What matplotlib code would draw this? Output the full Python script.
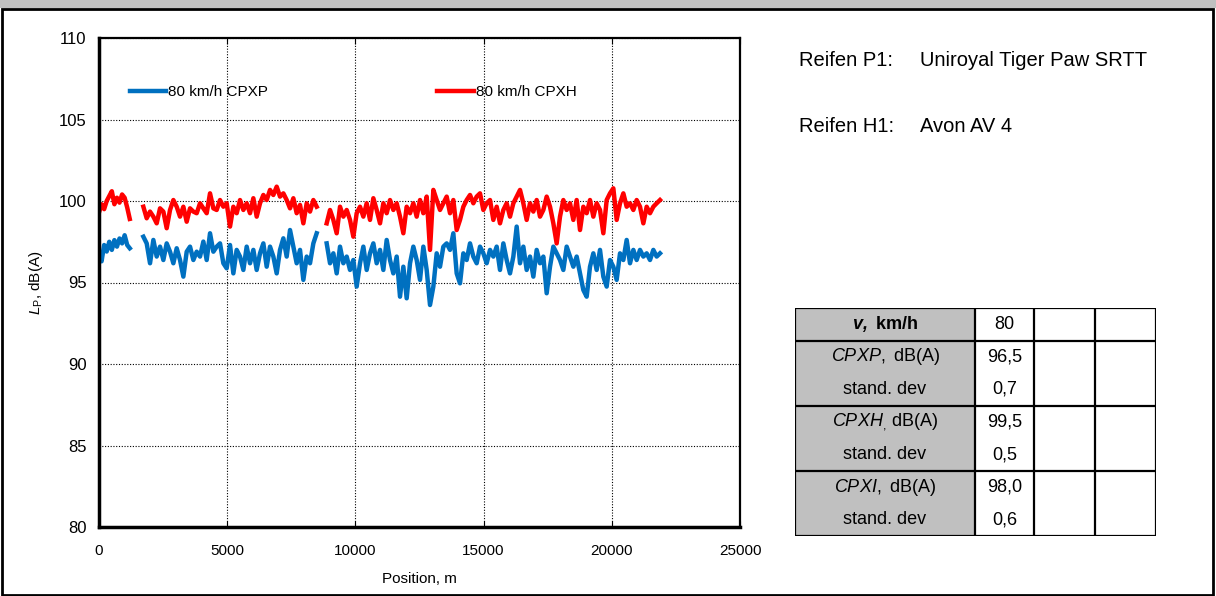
import matplotlib.pyplot as plt
import numpy as np
from matplotlib.patches import Rectangle
from matplotlib.lines import Line2D

plt.rcParams['font.family'] = ['Liberation Sans', 'DejaVu Sans']
plt.rcParams['mathtext.fontset'] = 'custom'
plt.rcParams['mathtext.rm'] = 'Liberation Sans'
plt.rcParams['mathtext.it'] = 'Liberation Sans:italic'
plt.rcParams['mathtext.bf'] = 'Liberation Sans:bold'
plt.rcParams['mathtext.sf'] = 'Liberation Sans:bold:italic'

# measured segments (start position, step in m)
seg_start = [0, 1730, 8880]
seg_step = [100, 130, 130]

cpxp_1 = [96.8, 96.3, 97.3, 96.9, 97.5, 97.0, 97.6, 97.2, 97.7, 97.4, 97.9, 97.3, 97.1]
cpxp_2 = [97.81, 97.40, 96.18, 97.61, 96.59, 97.20, 96.38, 97.40, 96.89, 96.18, 97.10,
          96.38, 95.36, 96.89, 97.20, 96.38, 96.89, 96.59, 97.51, 96.38, 98.02, 96.89,
          97.20, 97.40, 96.18, 95.87, 97.30, 95.56, 97.00, 96.59, 95.77, 97.20, 96.18,
          97.00, 95.77, 96.79, 97.40, 95.97, 97.20, 96.59, 95.56, 97.00, 97.71, 96.59,
          98.22, 97.20, 96.18, 97.00, 95.16, 96.59, 96.18, 97.40, 98.02]
cpxp_3 = [97.40, 96.18, 96.79, 95.56, 97.20, 96.18, 96.59, 95.77, 96.38, 94.75, 96.18,
          97.20, 95.77, 96.79, 97.40, 96.18, 97.00, 95.77, 97.61, 96.38, 95.56, 96.59,
          94.13, 95.97, 94.03, 96.18, 97.20, 96.38, 95.16, 97.20, 95.77, 93.62, 94.75,
          96.79, 95.97, 97.20,
          97.40, 97.00, 98.02, 95.56, 94.95, 96.79, 96.38, 97.40, 96.59, 96.18, 97.20,
          96.79, 96.18, 97.00, 96.59, 97.20, 95.77, 97.40, 96.38, 95.56, 96.59, 98.43,
          96.18, 97.20, 95.77, 96.59, 95.36, 97.00, 96.18, 96.59, 94.34, 95.97, 97.20,
          96.79,
          96.38, 95.77, 97.20, 96.59, 95.97, 96.59, 95.56, 94.54, 94.13, 95.97, 96.79,
          95.77, 97.00, 95.36, 94.75, 96.38, 95.97, 95.16, 96.79, 96.38, 97.61, 96.18,
          97.00, 96.38, 97.00, 96.59, 96.79, 96.38, 97.00, 96.59, 96.79]

cpxh_1 = [99.3, 99.8, 99.5, 100.0, 100.3, 100.6, 99.8, 100.2, 99.9, 100.4, 100.2, 99.6, 98.9]
cpxh_2 = [99.65, 98.94, 99.35, 99.04, 98.63, 99.55, 99.35, 98.33, 99.45, 100.06, 99.65,
          99.04, 99.65, 98.73, 99.55, 99.35, 99.25, 99.86, 99.55, 99.25, 100.47, 99.55,
          99.45, 100.06, 99.65, 99.86, 98.43, 99.65, 99.25, 100.06, 99.45, 99.86, 99.25,
          100.17, 99.04, 99.86, 100.37, 100.06, 100.68, 100.37, 100.88, 100.27, 100.47,
          100.06, 99.55, 100.17, 99.25, 99.76, 98.63, 99.86, 99.35, 100.06, 99.65]
cpxh_3 = [98.63, 99.45, 98.84, 98.02, 99.65, 99.04, 99.45, 98.84, 97.81, 99.25, 99.65,
          99.04, 99.86, 98.84, 100.17, 99.45, 98.63, 99.86, 99.25, 100.06, 99.45, 99.86,
          99.04, 98.02, 99.65, 99.25, 99.86, 99.04, 100.06, 99.25, 100.27, 97.00, 100.68,
          100.06, 99.45, 99.86,
          100.27, 99.25, 100.06, 98.22, 98.84, 99.65, 100.06, 100.37, 99.86, 100.27,
          100.47, 99.45, 99.86, 100.06, 98.84, 99.65, 98.63, 99.45, 99.86, 99.04, 99.86,
          100.27, 100.68, 99.86, 98.84, 99.86, 99.35, 100.06, 99.04, 99.45, 100.27, 99.65,
          98.63, 97.40,
          99.04, 100.06, 99.45, 99.86, 98.84, 100.06, 98.22, 99.65, 99.25, 100.06, 99.04,
          99.86, 99.45, 98.02, 100.06, 100.47, 100.78, 98.84, 99.86, 100.47, 99.65, 99.86,
          99.45, 100.06, 99.65, 98.63, 99.65, 99.25, 99.65, 99.86, 100.06]

cpxp_segs = [cpxp_1, cpxp_2, cpxp_3]
cpxh_segs = [cpxh_1, cpxh_2, cpxh_3]

label_p = '80 km/h CPXP'
label_h = '80 km/h CPXH'
reifen = [('Reifen P1:', 'Uniroyal Tiger Paw SRTT'), ('Reifen H1:', 'Avon AV 4')]

tab_labels = [r'$\mathsf{v,}$ $\mathbf{km/h}$', r'$\it{CPXP,}$ dB(A)', 'stand. dev',
              r'$\it{CPXH}_{,}$ dB(A)', 'stand. dev', r'$\it{CPXI,}$ dB(A)', 'stand. dev']
tab_values = ['80', '96,5', '0,7', '99,5', '0,5', '98,0', '0,6']

blue = '#0070C0'
red = '#FF0000'

fig = plt.figure(figsize=(12.16, 5.96), dpi=100)

# frame and grey header band
fig.add_artist(Rectangle((0, 1 - 8 / 596), 1, 8 / 596, transform=fig.transFigure,
                         facecolor='#C0C0C0', edgecolor='none'))
fig.add_artist(Rectangle((2 / 1216, 0.002), 1 - 5 / 1216, 1 - 10 / 596, transform=fig.transFigure,
                         facecolor='none', edgecolor='black', lw=2))

ax = fig.add_axes([99 / 1216, 1 - 527 / 596, 641 / 1216, 489 / 596])

for i in range(3):
    xs = seg_start[i] + seg_step[i] * np.arange(len(cpxp_segs[i]))
    ax.plot(xs, cpxp_segs[i], color=blue, lw=3.2, solid_joinstyle='round',
            label=label_p if i == 0 else None)
for i in range(3):
    xs = seg_start[i] + seg_step[i] * np.arange(len(cpxh_segs[i]))
    ax.plot(xs, cpxh_segs[i], color=red, lw=3.2, solid_joinstyle='round',
            label=label_h if i == 0 else None)

ax.set_xlim(0, 25000)
ax.set_ylim(80, 110)
ax.set_xticks(np.arange(0, 25001, 5000))
ax.set_yticks(np.arange(80, 111, 5))
ax.grid(True, color='black', ls=(0, (1, 1.5)), lw=0.8)
ax.tick_params(axis='x', labelsize=11, direction='in', top=True, length=4, pad=12)
ax.tick_params(axis='y', labelsize=12, direction='in', length=0, pad=9)
for s in ['left', 'bottom']:
    ax.spines[s].set_linewidth(2.5)
for s in ['top', 'right']:
    ax.spines[s].set_linewidth(1.6)
ax.set_xlabel('Position, m', fontsize=11, labelpad=10)
ax.set_ylabel(r'$L_{\mathrm{P}}$, dB(A)', fontsize=11, labelpad=10)

leg = ax.legend(loc='upper left', bbox_to_anchor=(0.048, 0.904), ncol=2, frameon=False,
                fontsize=11, handlelength=2.4, handletextpad=0.1, columnspacing=11.1,
                borderaxespad=0, borderpad=0)
for h in leg.legend_handles:
    h.set_linewidth(3.2)

# tyre text
for k, (a, b) in enumerate(reifen):
    y = 1 - (60 + 67 * k) / 596
    fig.text(799 / 1216, y, a, fontsize=14.5, va='center')
    fig.text(920 / 1216, y, b, fontsize=14.5, va='center')

# table in pixel coordinates
tx0, tx1, ty0, ty1 = 795, 1156, 308, 536
tab = fig.add_axes([tx0 / 1216, 1 - ty1 / 596, (tx1 - tx0) / 1216, (ty1 - ty0) / 596])
tab.set_xlim(tx0, tx1)
tab.set_ylim(ty1, ty0)
tab.axis('off')
cols = [795, 975, 1034, 1095, 1156]
rows = np.linspace(ty0, ty1, 8)
tab.add_patch(Rectangle((cols[0], ty0), cols[1] - cols[0], ty1 - ty0,
                        facecolor='#C0C0C0', edgecolor='none'))
for c in cols:
    tab.add_line(Line2D([c, c], [ty0, ty1], color='black', lw=1.6))
for r in [rows[0], rows[1], rows[3], rows[5], rows[7]]:
    tab.add_line(Line2D([tx0, tx1], [r, r], color='black', lw=1.6))
for i in range(7):
    yc = (rows[i] + rows[i + 1]) / 2
    tab.text((cols[0] + cols[1]) / 2, yc, tab_labels[i], fontsize=13,
             ha='center', va='center')
    tab.text((cols[1] + cols[2]) / 2, yc, tab_values[i], fontsize=13,
             ha='center', va='center')

fig.savefig('out.png', dpi=100)
